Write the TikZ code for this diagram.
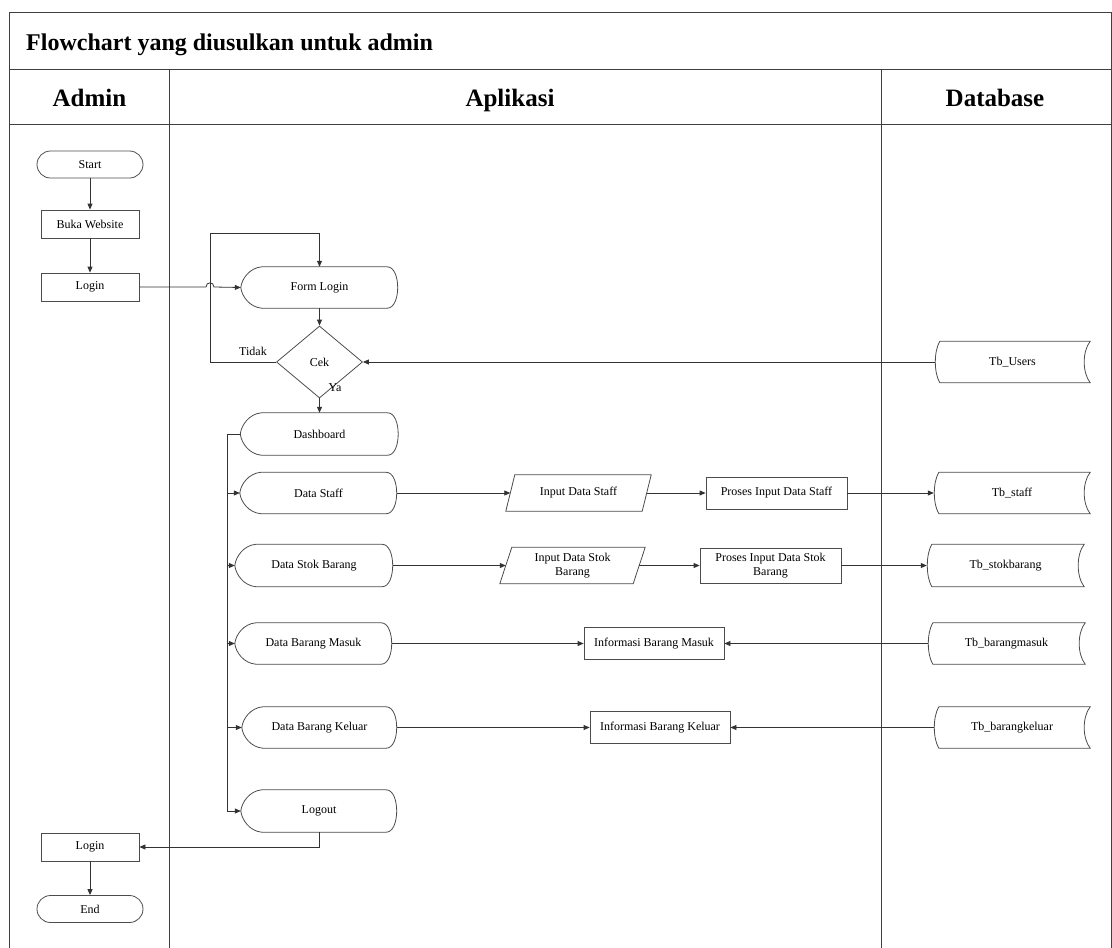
\documentclass[tikz,border=0pt]{standalone}
\usepackage{fontspec}
\setmainfont{Liberation Serif}
\usetikzlibrary{arrows.meta,shapes.geometric,calc}

\begin{document}
\begin{tikzpicture}[x=1pt,y=-1pt,
  laneline/.style={draw=black!75,line width=1pt},
  shapeline/.style={draw=black!70,line width=0.8pt},
  lbl/.style={font=\fontsize{12}{14}\selectfont, align=center, inner sep=0pt},
  term/.style={lbl, shapeline, rounded corners=13.5pt, minimum width=106pt, minimum height=27pt},
  procbox/.style={lbl, shapeline, minimum width=#1, minimum height=28pt},
  dispbox/.style={lbl, minimum width=#1, minimum height=41pt},
  storebox/.style={lbl, minimum width=#1, minimum height=41pt},
  iobox/.style={lbl, minimum width=145pt, minimum height=36pt},
  decision/.style={lbl, shapeline, diamond, minimum width=86pt, minimum height=72pt},
  hdr/.style={anchor=base, inner sep=0pt, font=\fontsize{25}{30}\selectfont\bfseries},
  flow/.style={draw=black!80, line width=0.8pt, -{Triangle[length=6pt,width=5pt]}},
  plain/.style={draw=black!80, line width=0.8pt},
]
\useasboundingbox (0,0) rectangle (1112,948);

% swimlane frame
\draw[laneline] (9,948) -- (9,12) -- (1111,12) -- (1111,948);
\draw[laneline] (9,69) -- (1111,69);
\draw[laneline] (9,124) -- (1111,124);
\draw[laneline] (169,69) -- (169,948);
\draw[laneline] (881,69) -- (881,948);

\node[anchor=base west, inner sep=0pt, font=\fontsize{24}{28}\selectfont\bfseries] (title) at (26,50) {Flowchart yang diusulkan untuk admin};
\node[hdr] (hAdmin) at (89.5,106) {Admin};
\node[hdr] (hApp) at (510,106) {Aplikasi};
\node[hdr] (hDb) at (995,106) {Database};

% Admin lane
\node[term] (start) at (90,164.5) {Start};
\node[procbox=98pt] (buka) at (90,224) {Buka Website};
\node[procbox=98pt] (login) at (90,287) {Login};
\node[procbox=98pt] (login2) at (90,847) {Login};
\node[term] (end) at (90,909) {End};

% Aplikasi lane
\node[dispbox=157pt] (form) at (319.5,287.5) {Form Login};
\node[decision] (cek) at (319.5,362) {Cek};
\node[dispbox=158pt, minimum height=42pt] (dash) at (319.5,434) {Dashboard};
\node[dispbox=157pt] (staff) at (318.5,493) {Data Staff};
\node[dispbox=158pt, minimum height=42pt] (stok) at (314,565.5) {Data Stok Barang};
\node[dispbox=157pt] (masuk) at (313.5,643.5) {Data Barang Masuk};
\node[dispbox=155pt] (keluar) at (319.5,727.5) {Data Barang Keluar};
\node[dispbox=156pt, minimum height=42pt] (logout) at (319,811) {Logout};

\node[iobox] (inStaff) at (578.5,493) {Input Data Staff};
\node[iobox] (inStok) at (572.5,565.5) {Input Data Stok\\Barang};
\node[procbox=141pt, minimum height=32pt] (prStaff) at (776.5,493) {Proses Input Data Staff};
\node[procbox=141pt, minimum height=35pt] (prStok) at (770.5,565.5) {Proses Input Data Stok\\Barang};
\node[procbox=140pt, minimum height=32pt] (infMasuk) at (654,643.5) {Informasi Barang Masuk};
\node[procbox=140pt, minimum height=32pt] (infKeluar) at (660,727.5) {Informasi Barang Keluar};

% Database lane
\node[storebox=155pt] (users) at (1012.5,362) {Tb\_Users};
\node[storebox=156pt] (tStaff) at (1012,493) {Tb\_staff};
\node[storebox=157pt, minimum height=42pt] (tStok) at (1005.5,565.5) {Tb\_stokbarang};
\node[storebox=157pt] (tMasuk) at (1006.5,643.5) {Tb\_barangmasuk};
\node[storebox=156pt] (tKeluar) at (1012,727.5) {Tb\_barangkeluar};

% display outlines: bowed left point, rounded right side
\foreach \n in {form,dash,staff,stok,masuk,keluar,logout} {
  \draw[shapeline] ($(\n.north west)+(21,0)$) -- ($(\n.north east)+(-11,0)$)
    .. controls ($(\n.north east)+(3,0)$) and ($(\n.south east)+(3,0)$) .. ($(\n.south east)+(-11,0)$)
    -- ($(\n.south west)+(21,0)$)
    .. controls ($(\n.south west)+(9,-1)$) and ($(\n.west)+(1,9)$) .. (\n.west)
    .. controls ($(\n.west)+(1,-9)$) and ($(\n.north west)+(9,1)$) .. cycle;
}
% stored data outlines
\foreach \n in {users,tStaff,tStok,tMasuk,tKeluar} {
  \draw[shapeline] ($(\n.north west)+(5,0)$) -- (\n.north east)
    .. controls ($(\n.north east)+(-8,10)$) and ($(\n.south east)+(-8,-10)$) .. (\n.south east)
    -- ($(\n.south west)+(5,0)$)
    .. controls ($(\n.south west)+(-1,-10)$) and ($(\n.north west)+(-1,10)$) .. cycle;
}
% input/output parallelograms
\foreach \n/\s in {inStaff/9,inStok/12} {
  \draw[shapeline] (\n.south west) -- ($(\n.north west)+(\s,0)$) -- (\n.north east)
    -- ($(\n.south east)+(-\s,0)$) -- cycle;
}

% connectors
\coordinate (loopTop) at (210,233);
\coordinate (bus) at (227,434);

\draw[flow] (start) -- (buka);
\draw[flow] (buka) -- (login);
\draw[flow] (login.east) -- ($(login.east -| loopTop)+(-4,0)$)
  .. controls +(0,-5.5) and +(0,-5.5) .. ($(login.east -| loopTop)+(4,0)$) -- (form.west);
\draw[flow] (form.south) -- (cek.north);
\draw[flow] (cek.west) -| (loopTop) -| (form.north);
\draw[flow] (users.west) -- (cek.east);
\draw[flow] (cek.south) -- (dash.north);
\node[lbl, anchor=base] (tidak) at (253,355) {Tidak};
\node[lbl, anchor=base] (ya) at (335,391) {Ya};

\draw[flow] (dash.west) -- (bus) |- (logout.west);
\foreach \n in {staff,stok,masuk,keluar} {
  \draw[flow] (\n.west -| bus) -- (\n.west);
}

\draw[flow] (staff.east) -- ($(inStaff.west)+(4.5,0)$);
\draw[flow] ($(inStaff.east)+(-4.5,0)$) -- (prStaff.west);
\draw[flow] (prStaff.east) -- (tStaff.west);

\draw[flow] (stok.east) -- ($(inStok.west)+(6,0)$);
\draw[flow] ($(inStok.east)+(-6,0)$) -- (prStok.west);
\draw[flow] (prStok.east) -- (tStok.west);

\draw[flow] (masuk.east) -- (infMasuk.west);
\draw[flow] (tMasuk.west) -- (infMasuk.east);
\draw[flow] (keluar.east) -- (infKeluar.west);
\draw[flow] (tKeluar.west) -- (infKeluar.east);

\draw[flow] (logout.south) |- (login2.east);
\draw[flow] (login2) -- (end);
\end{tikzpicture}
\end{document}
